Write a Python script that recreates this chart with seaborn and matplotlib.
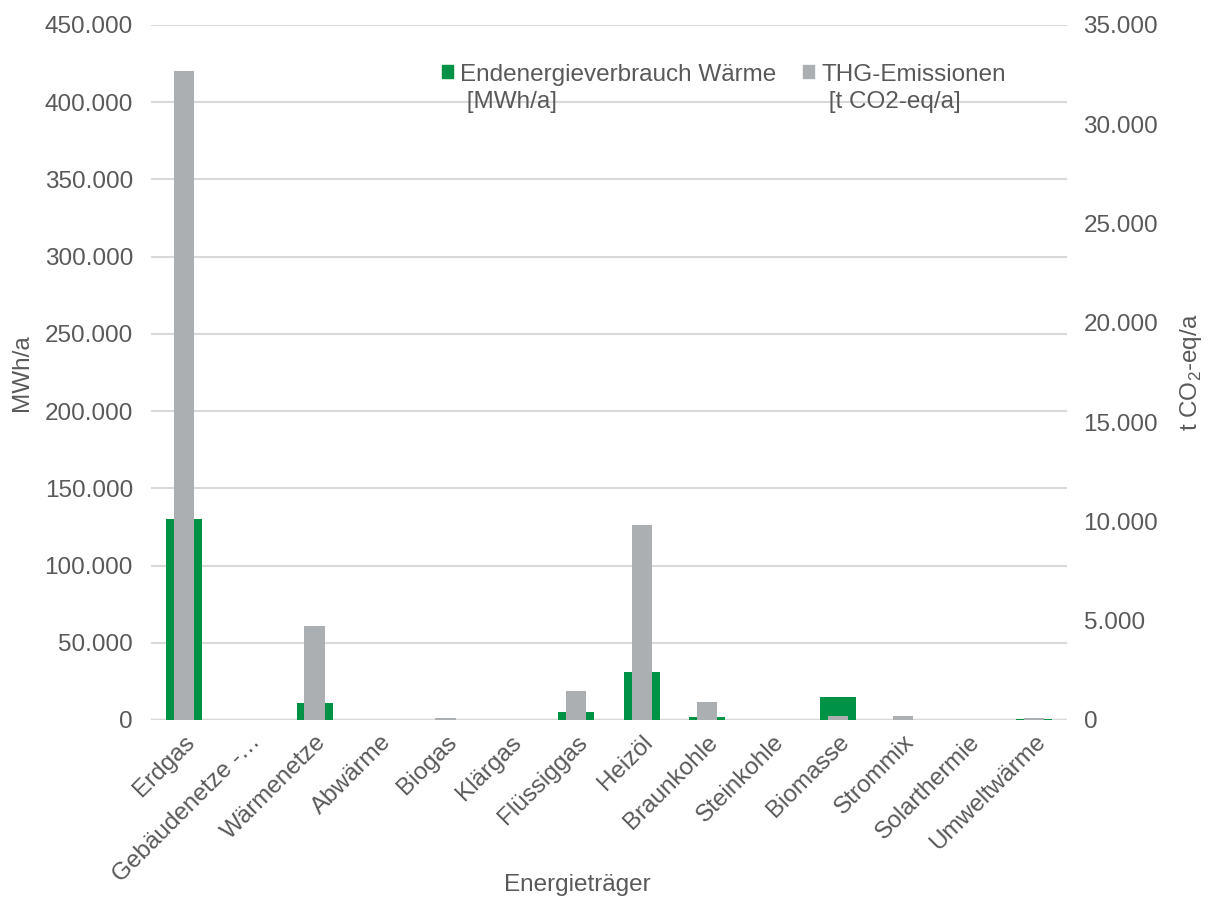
import matplotlib
matplotlib.use("Agg")
import matplotlib.pyplot as plt
from matplotlib.patches import Rectangle
from matplotlib.legend_handler import HandlerPatch
from matplotlib.ticker import FuncFormatter, MultipleLocator
import pandas as pd
import seaborn as sns

# Energieträger und Werte
categories = ["Erdgas", "Gebäudenetze -…", "Wärmenetze", "Abwärme", "Biogas", "Klärgas",
              "Flüssiggas", "Heizöl", "Braunkohle", "Steinkohle", "Biomasse", "Strommix",
              "Solarthermie", "Umweltwärme"]
energy_mwh = [130000, 0, 11000, 0, 300, 0, 5000, 31000, 1700, 0, 15100, 0, 0, 500]
ghg_t = [32700, 0, 4750, 0, 100, 0, 1480, 9800, 900, 0, 190, 180, 0, 120]

GREEN = "#009245"
GREY = "#ABAFB2"
TEXT = "#595959"
GRID = "#D9D9D9"

sns.set_theme(style="white")
plt.rcParams["font.family"] = ["Liberation Sans", "DejaVu Sans"]
plt.rcParams["text.color"] = TEXT
plt.rcParams["axes.labelcolor"] = TEXT
plt.rcParams["xtick.color"] = TEXT
plt.rcParams["ytick.color"] = TEXT

df = pd.DataFrame({"Energieträger": categories, "Energie": energy_mwh, "THG": ghg_t})

fig = plt.figure(figsize=(12.11, 9.02), dpi=100)
ax = fig.add_axes([0.1247, 0.2018, 0.7563, 0.7705])
ax2 = ax.twinx()

sns.barplot(data=df, x="Energieträger", y="Energie", color=GREEN, width=0.55,
            saturation=1, linewidth=0, edgecolor="none", ax=ax, zorder=2)
sns.barplot(data=df, x="Energieträger", y="THG", color=GREY, width=0.31,
            saturation=1, linewidth=0, edgecolor="none", ax=ax2, zorder=3)

fs = 17.5
thousands = FuncFormatter(lambda v, p: f"{int(round(v)):,}".replace(",", "."))

ax.set_ylim(0, 450000)
ax.yaxis.set_major_locator(MultipleLocator(50000))
ax.yaxis.set_major_formatter(thousands)
ax2.set_ylim(0, 35000)
ax2.yaxis.set_major_locator(MultipleLocator(5000))
ax2.yaxis.set_major_formatter(thousands)
ax.set_xlim(-0.5, len(categories) - 0.5)

ax.grid(axis="y", color=GRID, linewidth=1.5, zorder=0)
ax.set_axisbelow(True)
ax2.grid(False)
for a in (ax, ax2):
    for s in a.spines.values():
        s.set_visible(False)
ax.axhline(0, color=GRID, linewidth=2.5, zorder=1)

ax.tick_params(axis="y", length=0, labelsize=fs, pad=13)
ax2.tick_params(axis="y", length=0, labelsize=fs, pad=12)
ax.tick_params(axis="x", length=0, labelsize=fs, pad=8)
plt.setp(ax.get_xticklabels(), rotation=45, ha="right", rotation_mode="anchor")

ax.set_xlabel("Energieträger", fontsize=fs)
ax.xaxis.set_label_coords(0.465, -0.222)
ax.set_ylabel("MWh/a", fontsize=fs, labelpad=8)
ax2.set_ylabel(r"t CO$_\mathregular{2}$-eq/a", fontsize=fs, labelpad=14)


def top_square(legend, orig_handle, xdescent, ydescent, width, height, fontsize):
    # square aligned with the first line of a two-line label
    return Rectangle((-xdescent, -ydescent + 0.72 * fontsize), width, height)


handles = [Rectangle((0, 0), 1, 1, color=GREEN), Rectangle((0, 0), 1, 1, color=GREY)]
labels = ["Endenergieverbrauch Wärme\n [MWh/a]", "THG-Emissionen\n [t CO2-eq/a]"]
leg = ax2.legend(handles, labels, ncol=2, frameon=False, fontsize=fs,
                 loc="upper left", bbox_to_anchor=(0.347, 0.953),
                 bbox_transform=fig.transFigure,
                 handlelength=0.45, handleheight=0.45, handletextpad=0.3,
                 columnspacing=1.1, labelspacing=0.2,
                 handler_map={Rectangle: HandlerPatch(patch_func=top_square)})
for t in leg.get_texts():
    t.set_color(TEXT)
    t.set_linespacing(1.3)

fig.savefig("out.png", dpi=100)
